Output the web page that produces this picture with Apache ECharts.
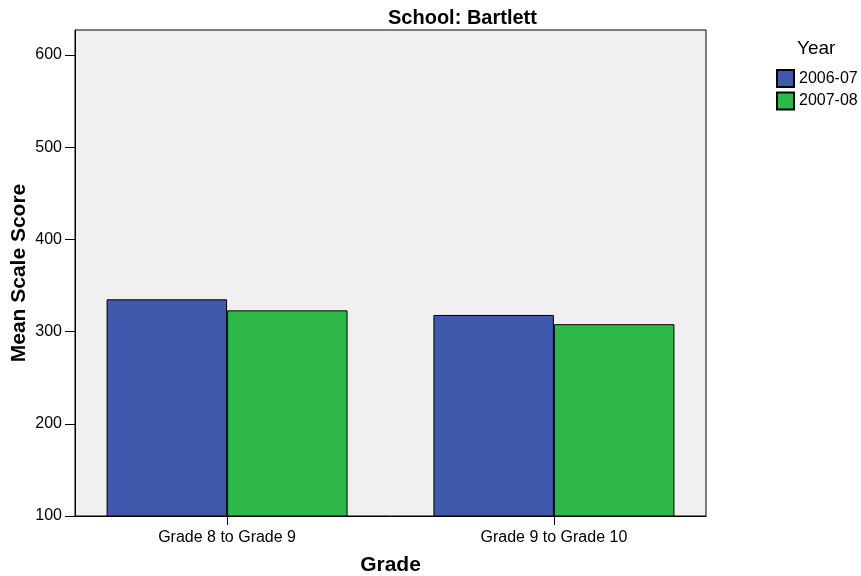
<!DOCTYPE html>
<html>
<head>
<meta charset="utf-8">
<script src="https://cdn.jsdelivr.net/npm/echarts@6/dist/echarts.min.js"></script>
<style>html,body{margin:0;padding:0;background:#fff}#c{width:861px;height:576px}</style>
</head>
<body>
<div id="c"></div>
<script>
const categories = ['Grade 8 to Grade 9', 'Grade 9 to Grade 10'];
const seriesNames = ['2006-07', '2007-08'];
const values2006 = [335, 318];
const values2007 = [323, 308];
const yTicks = [100, 200, 300, 400, 500, 600];
const colors = ['#3e58ac', '#2eb848'];

const font = '"Liberation Sans", Arial, sans-serif';
const chart = echarts.init(document.getElementById('c'));
const catPos = categories.map((c, i) => i);
function toData(vals) { return vals.map((v, i) => [i, v]); }

chart.setOption({
  animation: false,
  textStyle: { fontFamily: font },
  title: [
    { text: 'School: Bartlett', left: 388, top: 8, padding: 0,
      textStyle: { fontFamily: font, fontSize: 20, fontWeight: 'bold', color: '#000' } },
    { text: 'Year', left: 797, top: 39, padding: 0,
      textStyle: { fontFamily: font, fontSize: 19, fontWeight: 'normal', color: '#000' } }
  ],
  legend: {
    orient: 'vertical', left: 776, top: 69, padding: 0,
    itemWidth: 17, itemHeight: 17, itemGap: 3.5,
    icon: 'rect',
    textStyle: { fontFamily: font, fontSize: 16, color: '#000' },
    data: seriesNames
  },
  grid: {
    left: 75, right: 155, top: 30, bottom: 60,
    outerBoundsMode: 'none', containLabel: false,
    show: true, backgroundColor: '#f0f0f0', borderColor: '#000', borderWidth: 1
  },
  xAxis: {
    type: 'value', min: -0.4653, max: 1.4653,
    name: 'Grade', nameLocation: 'middle', nameGap: 39,
    nameTextStyle: { fontFamily: font, fontSize: 21, fontWeight: 'bold', color: '#000' },
    axisLine: { show: true, onZero: false, lineStyle: { color: '#000', width: 1 } },
    axisTick: { show: true, length: 9, lineStyle: { color: '#000' }, customValues: catPos },
    axisLabel: { customValues: catPos, formatter: v => categories[Math.round(v)] || '',
      fontFamily: font, fontSize: 16, color: '#000', margin: 14 },
    splitLine: { show: false }
  },
  yAxis: {
    type: 'value', min: 100, max: 627, interval: 100,
    name: 'Mean Scale Score', nameLocation: 'middle', nameGap: 45, nameMoveOverlap: false,
    nameTextStyle: { fontFamily: font, fontSize: 21, fontWeight: 'bold', color: '#000' },
    axisLine: { show: true, onZero: false, lineStyle: { color: '#000', width: 1 } },
    axisTick: { show: true, length: 10, lineStyle: { color: '#000' }, customValues: yTicks },
    axisLabel: { customValues: yTicks, fontFamily: font, fontSize: 16, color: '#000', margin: 13 },
    splitLine: { show: false }
  },
  series: [
    { name: seriesNames[0], type: 'bar', data: toData(values2006), barWidth: 120.5, barGap: '0%',
      itemStyle: { color: colors[0], borderColor: '#000', borderWidth: 1 } },
    { name: seriesNames[1], type: 'bar', data: toData(values2007), barWidth: 120.5, barGap: '0%',
      itemStyle: { color: colors[1], borderColor: '#000', borderWidth: 1 } }
  ]
});
</script>
</body>
</html>
